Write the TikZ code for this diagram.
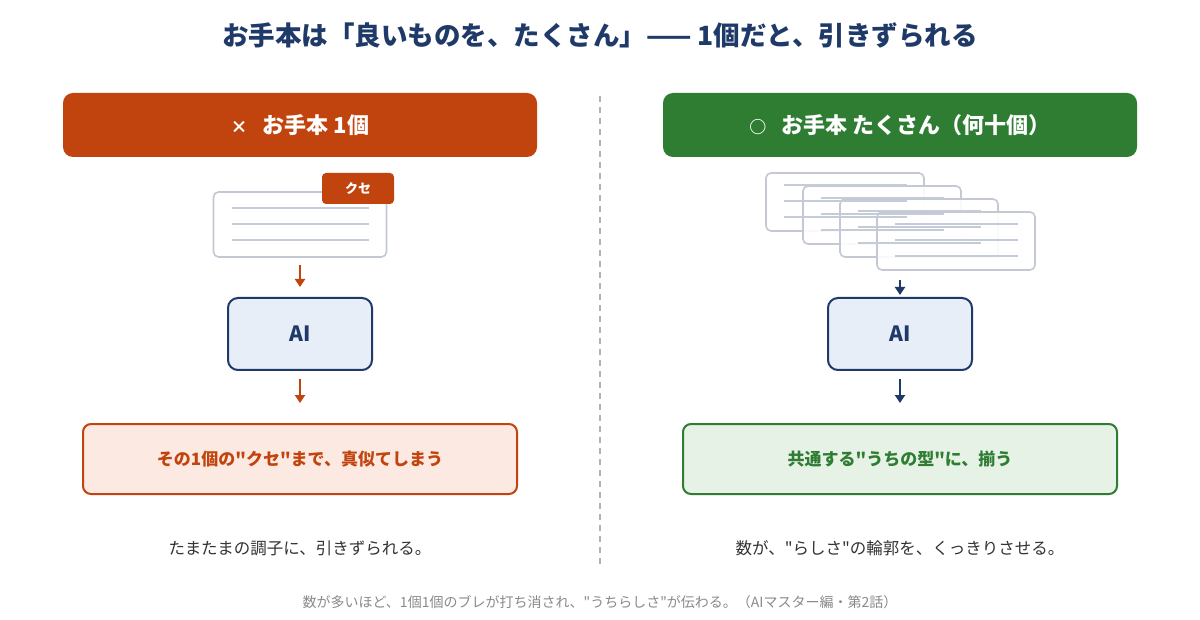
\documentclass[tikz,border=0pt]{standalone}
\usepackage{fontspec}
\setmainfont{Noto Sans CJK JP}[Ligatures=TeXOff]
\usetikzlibrary{arrows.meta}

\definecolor{navy}{HTML}{1F3A68}
\definecolor{rust}{HTML}{C1440E}
\definecolor{leaf}{HTML}{2E7D32}
\definecolor{rustbg}{HTML}{FCEAE2}
\definecolor{leafbg}{HTML}{E7F2E7}
\definecolor{aibg}{HTML}{E8EEF8}
\definecolor{docedge}{HTML}{C3C8D4}
\definecolor{docline}{HTML}{C6CBD8}
\definecolor{captxt}{HTML}{333333}
\definecolor{foottxt}{HTML}{8A8A8A}

\begin{document}
\begin{tikzpicture}[x=1pt,y=-1pt]
% Diagram style
\tikzset{
    hdr/.style={rounded corners=10pt, minimum width=474pt, minimum height=64pt,
        inner sep=0pt, text=white, font=\fontsize{22}{26}\selectfont\bfseries},
    doc/.style={draw=docedge, line width=1.6pt, fill=white, rounded corners=5pt,
        inner sep=0pt},
    docln/.style={draw=docline, line width=1.4pt},
    tag/.style={fill=rust, rounded corners=4pt, minimum width=72pt, minimum height=31pt,
        inner sep=0pt, text=white, font=\fontsize{13}{15}\selectfont\bfseries},
    aibox/.style={draw=navy, line width=2pt, fill=aibg, rounded corners=10pt,
        minimum width=144pt, minimum height=72pt, inner sep=0pt, text=navy,
        font=\fontsize{21}{24}\selectfont\bfseries},
    res/.style={line width=2pt, rounded corners=8pt, minimum width=434pt,
        minimum height=70pt, inner sep=0pt, font=\fontsize{17}{20}\selectfont\bfseries},
    arr/.style={line width=2.5pt, -{Triangle[width=10pt,length=8pt]}},
    captext/.style={text=captxt, font=\fontsize{16.5}{20}\selectfont},
}
\useasboundingbox[fill=white] (0,0) rectangle (1200,620);

% Title
\node[text=navy, font=\fontsize{26.5}{30}\selectfont\bfseries] (title) at (600,35)
    {お手本は「良いものを、たくさん」—— 1個だと、引きずられる};

% Divider
\draw[draw=black!30, line width=1.5pt, dash pattern=on 6pt off 5pt] (600,96) -- (600,566);

% Headers
\node[hdr, fill=rust] (hdrA) at (300,125)
    {{\fontsize{17}{20}\selectfont ×}\ \ \ お手本 1個};
\node[hdr, fill=leaf] (hdrB) at (900,125)
    {{\fontsize{17}{20}\selectfont ○}\ \ \ お手本 たくさん（何十個）};

% Left: one sample
\node[doc, minimum width=173pt, minimum height=65pt] (docA) at (300,224.5) {};
\foreach \dy in {17,33,49}
    \draw[docln] ([xshift=19pt,yshift=-\dy pt]docA.north west)
        -- ([xshift=-18pt,yshift=-\dy pt]docA.north east);
\node[tag] (kuse) at (358,188.5) {クセ};

\node[aibox] (aiA) at (300,334) {AI};
\node[res, draw=rust, fill=rustbg, text=rust] (resA) at (300,459)
    {その1個の"クセ"まで、真似てしまう};

% Right: many samples
\foreach \i in {0,...,3}
    \node[doc, fill opacity=0.9, minimum width=158pt, minimum height=58pt]
        (docB\i) at (845+37*\i,202+13*\i) {};
\foreach \i in {0,...,3}
    \foreach \dy in {13,29,45}
        \draw[docln] ([xshift=19pt,yshift=-\dy pt]docB\i.north west)
            -- ([xshift=-18pt,yshift=-\dy pt]docB\i.north east);
\coordinate (stackB) at (900,270);

\node[aibox] (aiB) at (900,334) {AI};
\node[res, draw=leaf, fill=leafbg, text=leaf] (resB) at (900,459)
    {共通する"うちの型"に、揃う};

% Connection
\draw[arr, draw=rust, shorten <=7pt, shorten >=10pt] (docA) -- (aiA);
\draw[arr, draw=rust, shorten <=8pt, shorten >=20pt] (aiA) -- (resA);
\draw[arr, draw=navy, shorten <=10pt, shorten >=2pt] (stackB) -- (aiB);
\draw[arr, draw=navy, shorten <=8pt, shorten >=20pt] (aiB) -- (resB);

% Captions
\node[captext] (capA) at (300,548) {たまたまの調子に、引きずられる。};
\node[captext] (capB) at (900,548) {数が、"らしさ"の輪郭を、くっきりさせる。};
\node[text=foottxt, font=\fontsize{14}{16}\selectfont] (foot) at (600,602)
    {数が多いほど、1個1個のブレが打ち消され、"うちらしさ"が伝わる。（AIマスター編・第2話）};
\end{tikzpicture}
\end{document}
